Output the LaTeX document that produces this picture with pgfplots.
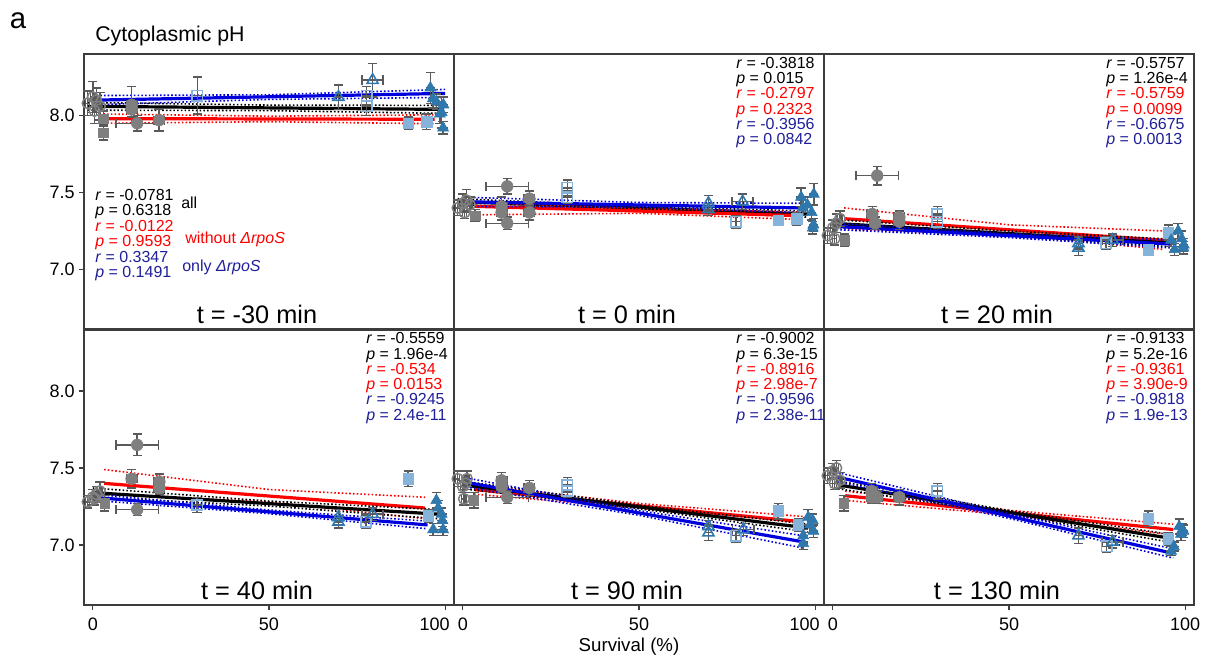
\documentclass[border=0pt]{standalone}
\usepackage{pgfplots}
\pgfplotsset{compat=1.18}
\usepackage{fontspec}
\setmainfont{Liberation Sans}
\definecolor{frame}{HTML}{3C3C3C}
\definecolor{mgray}{HTML}{7F7F7F}
\definecolor{egray}{HTML}{5A5A5A}
\definecolor{lblue}{HTML}{86B3DA}
\definecolor{sblue}{HTML}{2E78AD}
\definecolor{navy}{HTML}{1F1F99}
\definecolor{bline}{HTML}{0000DD}
\definecolor{rline}{HTML}{FF0000}
\newcommand\stat{\fontsize{12}{11.6}\selectfont}
\pgfplotsset{
  pan/.style={width=277.5pt, height=206.6pt, scale only axis, anchor=north west,
    xmin=-2.5, xmax=102.5, ymin=6.61, ymax=8.40, clip=false,
    axis line style={draw=frame, line width=1.5pt},
    tick style={draw=frame, line width=0.9pt},
    tick align=outside, major tick length=3.5pt,
    xtick pos=left, ytick pos=left,
    xtick={0,50,100}, xticklabels={0,50,100},
    ytick={7,7.5,8}, yticklabels={7.0,7.5,8.0},
    tick label style={font=\fontsize{13.5}{14}\selectfont},
    xticklabel style={yshift=-3pt},
  },
  notx/.style={xtick=\empty},
  noty/.style={ytick=\empty},
  shl/.style={xticklabels={0,50,{\hspace*{-16pt}100}}},
  pts/.style={only marks, scatter, scatter src=explicit symbolic,
    scatter/classes={
      go={mark=o, draw=mgray, mark size=4pt, line width=1.1pt},
      gs={mark=square*, draw=mgray, fill=mgray, mark size=3.5pt},
      gc={mark=*, draw=mgray, fill=mgray, mark size=4.4pt},
      lo={mark=square, draw=lblue, mark size=3.9pt, line width=1.2pt},
      sd={mark=triangle, mark options={rotate=180}, draw=sblue, mark size=4.8pt, line width=1.2pt},
      lf={mark=square*, draw=lblue, fill=lblue, mark size=4pt},
      st={mark=triangle*, draw=sblue, fill=sblue, mark size=4.8pt},
      sv={mark=triangle*, mark options={rotate=180}, draw=sblue, fill=sblue, mark size=4.8pt}},
    error bars/.cd, x dir=both, x explicit, y dir=both, y explicit,
    error bar style={draw=egray, line width=1.1pt},
    error mark options={draw=egray, line width=1.1pt, mark size=3.5pt, rotate=90}},
  reg/.style={line width=2.4pt},
  ci/.style={line width=1.2pt, dash pattern=on 1.2pt off 1.6pt},
}
\newcommand\pr[5]{\node[anchor=west, align=left, font=\stat, inner sep=0pt, text=#3] at (#1,#2) {\textit{r} = #4\\\textit{p} = #5};}
\newcommand\tl[3]{\node[anchor=base, font=\fontsize{19}{20}\selectfont, inner sep=0pt] at (#1,#2) {t = #3 min};}
\begin{document}
\begin{tikzpicture}
\path[use as bounding box] (0pt,0pt) rectangle (904.5pt,-495.75pt);
% ---------------- t = -30
\begin{axis}[pan, notx, at={(63pt,-40.5pt)}]
\addplot[reg, black] coordinates {(-1.5,8.06) (99.7,8.04)};
\addplot[ci, black] coordinates {(-1.5,8.085) (50,8.068) (99.7,8.066)};
\addplot[ci, black] coordinates {(-1.5,8.035) (50,8.032) (99.7,8.014)};
\addplot[reg, rline] coordinates {(3,7.98) (97,7.976)};
\addplot[ci, rline] coordinates {(3,8.01) (50,7.996) (97,8.005)};
\addplot[ci, rline] coordinates {(3,7.95) (50,7.96) (97,7.947)};
\addplot[reg, bline] coordinates {(0,8.10) (100,8.144)};
\addplot[ci, bline] coordinates {(0,8.13) (50,8.135) (100,8.17)};
\addplot[ci, bline] coordinates {(0,8.07) (50,8.105) (100,8.118)};
\addplot[pts] table[x=x,y=y,x error=ex,y error=ey,meta=c] {
x y ex ey c
-1.5 8.08 0.6 0.08 go
0 8.12 0.6 0.10 go
1 8.10 0.6 0.08 go
2 8.06 0.6 0.09 go
0.5 8.03 0.6 0.08 go
3 7.98 0.3 0.05 gs
3 7.89 0.3 0.05 gs
11 8.07 1.5 0.12 gc
11 8.04 1.5 0.05 gc
12.6 7.95 6 0.05 gc
18.8 7.97 1.5 0.07 gc
29.7 8.13 0 0.12 lo
77.7 8.13 0 0.06 lo
77.7 8.06 0 0.06 lo
69.7 8.12 0 0.08 sd
79.4 8.23 3 0.11 sd
89.5 7.95 0 0.04 lf
94.7 7.96 0 0.05 lf
95.8 8.18 0 0.10 st
96.5 8.11 0 0.06 st
99.4 7.92 0 0.04 st
99 8.02 0 0.10 st
97.5 8.09 0 0.05 sv
98.5 8.01 0 0.06 sv
99.5 8.07 0 0.05 sv
};
\end{axis}
% ---------------- t = 0
\begin{axis}[pan, notx, noty, at={(340.5pt,-40.5pt)}]
\addplot[reg, black] coordinates {(-1.5,7.44) (98,7.36)};
\addplot[ci, black] coordinates {(-1.5,7.46) (50,7.41) (98,7.38)};
\addplot[ci, black] coordinates {(-1.5,7.42) (50,7.39) (98,7.34)};
\addplot[reg, rline] coordinates {(3.5,7.41) (95,7.35)};
\addplot[ci, rline] coordinates {(3.5,7.435) (50,7.395) (95,7.375)};
\addplot[ci, rline] coordinates {(3.5,7.355) (50,7.365) (95,7.325)};
\addplot[reg, bline] coordinates {(0,7.44) (96,7.40)};
\addplot[ci, bline] coordinates {(0,7.47) (50,7.435) (96,7.43)};
\addplot[ci, bline] coordinates {(0,7.41) (50,7.405) (96,7.37)};
\addplot[pts] table[x=x,y=y,x error=ex,y error=ey,meta=c] {
x y ex ey c
-1.5 7.40 0.6 0.05 go
0 7.43 0.6 0.06 go
1 7.45 0.6 0.07 go
2 7.42 0.6 0.05 go
0.5 7.37 0.6 0.04 go
3.5 7.35 0.3 0.04 gs
12.6 7.54 6 0.05 gc
12.6 7.30 6 0.04 gc
11 7.41 1.5 0.06 gc
11 7.37 1.5 0.05 gc
18.9 7.46 1.5 0.05 gc
18.9 7.37 1.5 0.05 gc
29.7 7.53 0 0.05 lo
29.7 7.47 0 0.04 lo
77.5 7.31 0 0.04 lo
69.7 7.43 0 0.05 sd
69.7 7.39 0 0.04 sd
79.4 7.44 3 0.05 sd
89.5 7.32 0 0.03 lf
94.7 7.33 0 0.04 lf
96 7.47 0 0.06 st
99.6 7.49 0 0.07 st
96.5 7.40 0 0.05 st
99.5 7.29 0 0.04 st
97.8 7.42 0 0.05 sv
99 7.37 0 0.05 sv
99.3 7.27 0 0.04 sv
};
\end{axis}
% ---------------- t = 20
\begin{axis}[pan, notx, noty, at={(618pt,-40.5pt)}]
\addplot[reg, rline] coordinates {(3.2,7.33) (94,7.19)};
\addplot[ci, rline] coordinates {(3.2,7.40) (50,7.29) (94,7.25)};
\addplot[ci, rline] coordinates {(3.2,7.26) (50,7.225) (94,7.13)};
\addplot[reg, black] coordinates {(0,7.30) (97.5,7.17)};
\addplot[ci, black] coordinates {(0,7.325) (50,7.25) (97.5,7.195)};
\addplot[ci, black] coordinates {(0,7.275) (50,7.215) (97.5,7.145)};
\addplot[reg, bline] coordinates {(0,7.28) (96,7.165)};
\addplot[ci, bline] coordinates {(0,7.30) (50,7.233) (96,7.19)};
\addplot[ci, bline] coordinates {(0,7.26) (50,7.207) (96,7.14)};
\addplot[pts] table[x=x,y=y,x error=ex,y error=ey,meta=c] {
x y ex ey c
-1.5 7.22 0.6 0.05 go
0 7.27 0.6 0.05 go
1 7.30 0.6 0.06 go
2 7.33 0.6 0.05 go
0.5 7.20 0.6 0.04 go
3.3 7.19 0.3 0.04 gs
12.6 7.61 6 0.06 gc
11.2 7.36 1.5 0.05 gc
12 7.30 1.5 0.04 gc
18.9 7.31 1.5 0.05 gc
18.9 7.34 1.5 0.04 gc
29.7 7.36 0 0.05 lo
29.7 7.31 0 0.04 lo
77.5 7.17 0 0.04 lo
69.7 7.14 0 0.05 sd
69.7 7.17 0 0.04 sd
79.4 7.19 3 0.04 sd
89.5 7.13 0 0.03 lf
95.2 7.24 0 0.05 lf
96 7.19 0 0.04 st
99.6 7.16 0 0.04 st
97 7.13 0 0.04 st
98 7.25 0 0.05 sv
99 7.20 0 0.05 sv
99.5 7.14 0 0.04 sv
};
\end{axis}
% ---------------- t = 40
\begin{axis}[pan, shl, at={(63pt,-247.125pt)}]
\addplot[reg, rline] coordinates {(3.2,7.40) (94.3,7.24)};
\addplot[ci, rline] coordinates {(3.2,7.49) (50,7.36) (94.3,7.31)};
\addplot[ci, rline] coordinates {(3.2,7.33) (50,7.28) (94.3,7.17)};
\addplot[reg, black] coordinates {(0,7.34) (98,7.20)};
\addplot[ci, black] coordinates {(0,7.37) (50,7.285) (98,7.23)};
\addplot[ci, black] coordinates {(0,7.31) (50,7.253) (98,7.17)};
\addplot[reg, bline] coordinates {(0,7.31) (95,7.13)};
\addplot[ci, bline] coordinates {(0,7.33) (50,7.227) (95,7.155)};
\addplot[ci, bline] coordinates {(0,7.29) (50,7.203) (95,7.105)};
\addplot[pts] table[x=x,y=y,x error=ex,y error=ey,meta=c] {
x y ex ey c
-1.5 7.28 0.6 0.04 go
0 7.31 0.6 0.05 go
1 7.33 0.6 0.05 go
2 7.35 0.6 0.06 go
0.5 7.30 0.6 0.04 go
3.3 7.27 0.3 0.05 gs
12.6 7.65 6 0.07 gc
11 7.43 1.5 0.06 gc
12.6 7.23 6 0.04 gc
18.9 7.41 1.5 0.05 gc
18.9 7.37 1.5 0.04 gc
29.6 7.26 0 0.05 lo
77.5 7.15 0 0.04 lo
69.7 7.18 0 0.05 sd
69.7 7.15 0 0.04 sd
79.4 7.20 3 0.04 sd
89.5 7.43 0 0.05 lf
95.2 7.19 0 0.04 lf
96.6 7.10 0 0.04 st
99.2 7.16 0 0.04 st
99.4 7.10 0 0.04 st
97.5 7.29 0 0.05 sv
98 7.24 0 0.05 sv
99 7.20 0 0.04 sv
};
\end{axis}
% ---------------- t = 90
\begin{axis}[pan, noty, shl, at={(340.5pt,-247.125pt)}]
\addplot[reg, rline] coordinates {(3.2,7.36) (96.6,7.15)};
\addplot[ci, rline] coordinates {(3.2,7.39) (50,7.27) (96.6,7.185)};
\addplot[ci, rline] coordinates {(3.2,7.33) (50,7.24) (96.6,7.115)};
\addplot[reg, black] coordinates {(0,7.39) (98,7.11)};
\addplot[ci, black] coordinates {(0,7.415) (50,7.259) (98,7.135)};
\addplot[ci, black] coordinates {(0,7.365) (50,7.235) (98,7.085)};
\addplot[reg, bline] coordinates {(0,7.41) (96.6,7.02)};
\addplot[ci, bline] coordinates {(0,7.44) (50,7.223) (96.6,7.06)};
\addplot[ci, bline] coordinates {(0,7.38) (50,7.193) (96.6,6.98)};
\addplot[pts] table[x=x,y=y,x error=ex,y error=ey,meta=c] {
x y ex ey c
-1.5 7.43 0.6 0.05 go
1.2 7.43 0.6 0.05 go
0 7.38 0.6 0.04 go
0.3 7.30 0.6 0.04 go
0.8 7.40 0.6 0.04 go
3.2 7.29 0.3 0.05 gs
11 7.42 1.5 0.05 gc
12.6 7.31 6 0.04 gc
18.9 7.37 1.5 0.05 gc
11 7.38 1.5 0.04 gc
29.7 7.39 0 0.05 lo
29.7 7.35 0 0.04 lo
77.5 7.06 0 0.04 lo
69.7 7.08 0 0.05 sd
69.7 7.12 0 0.04 sd
79.6 7.10 3 0.04 sd
89.5 7.22 0 0.05 lf
95.2 7.13 0 0.04 lf
96.6 7.01 0 0.04 st
96.6 7.06 0 0.04 st
99.5 7.09 0 0.04 st
98 7.18 0 0.05 sv
98.5 7.13 0 0.05 sv
99.3 7.16 0 0.04 sv
};
\end{axis}
% ---------------- t = 130
\begin{axis}[pan, noty, at={(618pt,-247.125pt)}]
\addplot[reg, rline] coordinates {(3.5,7.32) (96.6,7.10)};
\addplot[ci, rline] coordinates {(3.5,7.35) (50,7.225) (96.6,7.135)};
\addplot[ci, rline] coordinates {(3.5,7.29) (50,7.195) (96.6,7.065)};
\addplot[reg, black] coordinates {(1.5,7.39) (94,7.05)};
\addplot[ci, black] coordinates {(1.5,7.415) (50,7.224) (94,7.075)};
\addplot[ci, black] coordinates {(1.5,7.365) (50,7.20) (94,7.025)};
\addplot[reg, bline] coordinates {(1.5,7.44) (96.6,6.945)};
\addplot[ci, bline] coordinates {(1.5,7.47) (50,7.203) (96.6,6.975)};
\addplot[ci, bline] coordinates {(1.5,7.41) (50,7.173) (96.6,6.915)};
\addplot[pts] table[x=x,y=y,x error=ex,y error=ey,meta=c] {
x y ex ey c
-1.5 7.45 0.6 0.05 go
0 7.48 0.6 0.05 go
1 7.50 0.6 0.05 go
2 7.42 0.6 0.05 go
0.5 7.40 0.6 0.04 go
3.2 7.27 0.3 0.05 gs
11 7.35 1.5 0.05 gc
11 7.31 1.5 0.04 gc
12.6 7.31 1.5 0.04 gc
18.9 7.31 1.5 0.05 gc
29.7 7.35 0 0.05 lo
77.7 6.99 0 0.04 lo
69.7 7.06 0 0.05 sd
79.4 7.02 3 0.04 sd
89.5 7.17 0 0.05 lf
95.2 7.04 0 0.04 lf
96 6.96 0 0.03 st
96.8 6.99 0 0.03 st
99.5 7.09 0 0.04 st
98.3 7.12 0 0.05 sv
98.8 7.07 0 0.04 sv
99.2 7.10 0 0.04 sv
};
\end{axis}
\begin{scope}[x=0.75pt,y=-0.75pt]
\node[font=\fontsize{22}{24}\selectfont, inner sep=0pt] at (18,21) {a};
\node[font=\fontsize{16}{17}\selectfont, anchor=base west, inner sep=0pt] at (95,41.7) {Cytoplasmic pH};
\node[font=\fontsize{14}{16}\selectfont, inner sep=0pt] at (629,647) {Survival (\%)};
\tl{257}{323.5}{-30}
\tl{627}{323.5}{0}
\tl{997}{323.5}{20}
\tl{257}{599}{40}
\tl{627}{599}{90}
\tl{997}{599}{130}
% panel 1 stats
\pr{95}{204}{black}{-0.0781}{0.6318}
\pr{95}{235}{rline}{-0.0122}{0.9593}
\pr{95}{266}{navy}{0.3347}{0.1491}
\node[anchor=west, font=\stat, inner sep=0pt] at (181,203) {all};
\node[anchor=west, font=\stat, inner sep=0pt, text=rline] at (185,239) {without \textit{ΔrpoS}};
\node[anchor=west, font=\stat, inner sep=0pt, text=navy] at (182,267) {only \textit{ΔrpoS}};
% panel 2
\pr{736}{72}{black}{-0.3818}{0.015}
\pr{736}{102.5}{rline}{-0.2797}{0.2323}
\pr{736}{133}{navy}{-0.3956}{0.0842}
% panel 3
\pr{1106}{72}{black}{-0.5757}{1.26e-4}
\pr{1106}{102.5}{rline}{-0.5759}{0.0099}
\pr{1106}{133}{navy}{-0.6675}{0.0013}
% panel 4
\pr{366}{347.5}{black}{-0.5559}{1.96e-4}
\pr{366}{378}{rline}{-0.534}{0.0153}
\pr{366}{408.5}{navy}{-0.9245}{2.4e-11}
% panel 5
\pr{736}{347.5}{black}{-0.9002}{6.3e-15}
\pr{736}{378}{rline}{-0.8916}{2.98e-7}
\pr{736}{408.5}{navy}{-0.9596}{2.38e-11}
% panel 6
\pr{1106}{347.5}{black}{-0.9133}{5.2e-16}
\pr{1106}{378}{rline}{-0.9361}{3.90e-9}
\pr{1106}{408.5}{navy}{-0.9818}{1.9e-13}
\end{scope}
\end{tikzpicture}
\end{document}
